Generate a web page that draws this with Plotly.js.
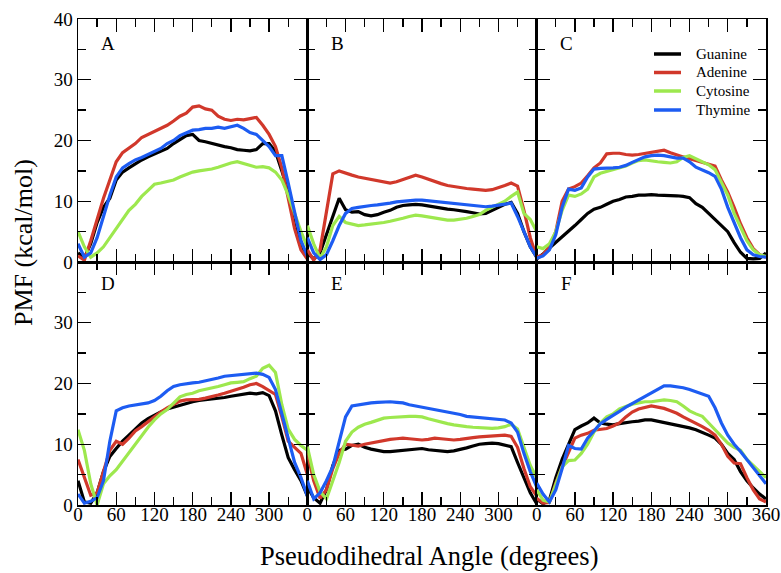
<!DOCTYPE html>
<html>
<head>
<meta charset="utf-8">
<script src="https://cdn.plot.ly/plotly-3.0.1.min.js"></script>
<style>
  html, body { margin: 0; padding: 0; background: #ffffff; }
  #chart { width: 781px; height: 573px; }
</style>
</head>
<body>
<div id="chart"></div>
<script>
// Pseudodihedral angle (degrees)
const angles = [0, 10, 20, 30, 40, 50, 60, 70, 80, 90, 100, 110, 120, 130, 140, 150, 160, 170, 180,
                190, 200, 210, 220, 230, 240, 250, 260, 270, 280, 290, 300, 310, 320, 330, 340, 350, 360];

const seriesNames = ["Guanine", "Adenine", "Cytosine", "Thymine"];
const panelLabels = ["A", "B", "C", "D", "E", "F"];
const xTickVals = [0, 60, 120, 180, 240, 300, 360];
const xTickTextShort = ["0", "60", "120", "180", "240", "300", ""];
const xTickTextFull = ["0", "60", "120", "180", "240", "300", "360"];
const yTickValsTop = [0, 10, 20, 30, 40];
const yTickTextTop = ["0", "10", "20", "30", "40"];
const yTickTextBottom = ["0", "10", "20", "30", ""];

// Panel A
const guanineA  = [1.5, 0.7, 3, 6.5, 9, 10.5, 13.5, 14.8, 15.5, 16.2, 16.8, 17.3, 17.8, 18.3, 18.7, 19.5, 20.2, 20.8, 21, 20, 19.8, 19.5, 19.2, 19, 18.8, 18.5, 18.4, 18.3, 18.5, 19.5, 19.5, 18.2, 15, 11.5, 6, 2.5, 1];
const adenineA  = [1, 0.3, 3.5, 7, 10.5, 13.5, 16.5, 18, 18.7, 19.5, 20.5, 21, 21.5, 22, 22.5, 23.2, 24, 24.5, 25.5, 25.7, 25.2, 25, 24, 23.5, 23.3, 23.5, 23.4, 23.6, 23.8, 22.5, 21, 19, 15.5, 10.5, 5.5, 2, 0.5];
const cytosineA = [5, 2.5, 0.8, 1.5, 2.5, 4, 5.5, 7, 8.5, 9.5, 10.8, 11.8, 12.8, 13, 13.2, 13.5, 14, 14.4, 14.8, 15, 15.1, 15.3, 15.6, 16, 16.3, 16.5, 16.2, 15.8, 15.6, 15.7, 15.5, 14.8, 13.5, 11, 8, 5, 2.5];
const thymineA  = [3, 0.8, 1.5, 4, 7.5, 11, 14, 15.5, 16.2, 16.8, 17.2, 17.7, 18.2, 18.7, 19.5, 20, 20.8, 21.3, 21.7, 21.8, 22, 22, 22.2, 22, 22.3, 22.5, 22, 21.3, 21, 20, 19, 17.5, 17.5, 13, 8, 3.5, 1];

// Panel B
const guanineB  = [1.5, 0.5, 1.5, 4.5, 7.5, 10.5, 8.6, 8.2, 8.3, 7.8, 7.6, 7.8, 8.2, 8.5, 9, 9.3, 9.4, 9.5, 9.4, 9.2, 9, 8.8, 8.7, 8.6, 8.5, 8.3, 8.1, 7.9, 8, 8.5, 9, 9.5, 9.8, 8, 5, 2.5, 0.8];
const adenineB  = [2, 0.3, 2, 8, 14.5, 15, 14.6, 14.3, 14, 13.8, 13.6, 13.5, 13.3, 13, 13.2, 13.6, 14, 14.3, 14, 13.6, 13.2, 12.9, 12.6, 12.4, 12.2, 12.1, 12, 11.9, 11.8, 11.9, 12.2, 12.6, 13, 12.5, 8.5, 4, 0.8];
const cytosineB = [6, 3, 0.6, 2.5, 6, 7.5, 6.5, 6.2, 6, 6.1, 6.2, 6.3, 6.5, 6.7, 6.9, 7.2, 7.5, 7.7, 7.6, 7.4, 7.2, 7, 6.9, 6.9, 7, 7.2, 7.5, 7.8, 8.5, 9, 9.5, 10, 10.8, 11.5, 8, 7, 5];
const thymineB  = [4, 1.5, 0.4, 1.2, 3.5, 6, 8, 8.8, 9, 9.2, 9.3, 9.4, 9.5, 9.7, 9.9, 10, 10.2, 10.2, 10.2, 10.1, 10, 9.9, 9.8, 9.7, 9.6, 9.5, 9.4, 9.2, 9.1, 9.2, 9.4, 9.6, 9.7, 7.5, 5, 2.5, 0.8];

// Panel C
const guanineC  = [0.5, 1.3, 2.3, 3.2, 4.2, 5, 6, 7, 8, 8.7, 9, 9.5, 10, 10.3, 10.7, 10.8, 11, 11, 11.1, 11, 11, 11, 10.9, 10.8, 10.6, 9.6, 9, 8, 7, 6, 5, 3.2, 1.6, 0.6, 0.5, 0.6, 1.5];
const adenineC  = [0.8, 1.2, 2.5, 5, 10, 12, 12.4, 13, 14.2, 15.5, 16.3, 17.8, 17.9, 17.9, 17.7, 17.6, 17.7, 17.9, 18, 18.3, 18.4, 18, 17.6, 17.3, 17, 16.7, 16.4, 16.2, 15.8, 13.5, 11.5, 9, 6.3, 4, 2.2, 1.2, 0.8];
const cytosineC = [2.5, 2.2, 3, 5, 8.5, 11, 10.8, 11.2, 12, 14, 14.6, 14.9, 15.1, 15.5, 15.8, 16.3, 16.7, 16.8, 16.6, 16.5, 16.4, 16.3, 16.5, 17.2, 17.5, 17, 16.5, 16, 15.2, 13, 11, 8, 5.8, 3.5, 2, 1.2, 0.9];
const thymineC  = [0.6, 1, 2, 4.5, 9, 12, 11.8, 12.2, 14, 15.3, 15.4, 15.4, 15.5, 15.6, 15.9, 16.4, 16.8, 17.3, 17.5, 17.6, 17.5, 17.3, 17.1, 17.1, 16.5, 15.6, 15.2, 14.7, 14.1, 12, 9, 6.5, 4, 2, 1.2, 0.9, 0.8];

// Panel D
const guanineD  = [4, 0.5, 0.3, 2, 5.5, 8, 9.3, 10.5, 11.5, 12.5, 13.5, 14.2, 14.8, 15.3, 15.8, 16.1, 16.4, 16.8, 17, 17.2, 17.3, 17.5, 17.6, 17.7, 17.9, 18.1, 18.3, 18.4, 18.3, 18.5, 18, 15.5, 11.5, 7.8, 5.8, 4, 1.5];
const adenineD  = [7.5, 4.5, 1.6, 2, 5.5, 9, 10.5, 10, 11, 12.2, 12.9, 13.7, 14.6, 15.3, 16, 16.6, 17.1, 17.3, 17.3, 17.4, 17.6, 17.8, 18.1, 18.4, 18.7, 19, 19.4, 19.8, 20, 19.5, 18.8, 18.2, 14.5, 10.5, 9.5, 8.5, 5];
const cytosineD = [12.4, 9, 3.5, 0, 3.5, 4.8, 5.8, 7.2, 8.8, 10, 11.6, 12.8, 14, 15, 15.7, 16.8, 17.8, 18.2, 18.4, 18.8, 19, 19.3, 19.5, 19.8, 20.1, 20.2, 20.3, 20.8, 21.2, 22.5, 23, 21.8, 16.5, 12.5, 10.8, 9.8, 9];
const thymineD  = [1.8, 0.3, 0.6, 1.2, 4, 10.5, 15.5, 16, 16.3, 16.5, 16.6, 16.8, 17.2, 17.9, 18.8, 19.5, 19.8, 20, 20.1, 20.2, 20.4, 20.6, 20.9, 21.2, 21.3, 21.4, 21.5, 21.6, 21.7, 21.5, 21, 19, 15, 10.5, 7, 4.5, 1.5];

// Panel E
const guanineE  = [3, 1.2, 0.3, 2.5, 6.5, 9, 9.2, 9.8, 10, 9.5, 9.2, 9, 8.8, 8.8, 8.9, 9.1, 9.2, 9.3, 9.3, 9.1, 9, 8.8, 8.8, 8.9, 9.1, 9.4, 9.7, 10, 10.1, 10.2, 10.1, 9.9, 9.6, 7, 4.5, 2, 0.2];
const adenineE  = [8.5, 4, 1.1, 2.5, 6, 8.5, 10, 9.8, 9.7, 10, 10.2, 10.4, 10.7, 10.8, 10.9, 11, 10.9, 10.8, 10.7, 10.8, 11, 10.9, 10.8, 10.7, 10.8, 11, 11.1, 11.2, 11.3, 11.4, 11.5, 11.5, 11.3, 9.5, 6, 3, 1.5];
const cytosineE = [9.6, 5, 2.2, 1, 4, 7, 10.5, 12, 12.8, 13.3, 13.6, 14, 14.3, 14.4, 14.5, 14.6, 14.6, 14.6, 14.5, 14.2, 13.9, 13.6, 13.4, 13.2, 13, 12.9, 12.8, 12.7, 12.6, 12.6, 12.7, 12.9, 13.3, 12.5, 9.5, 6.5, 4.5];
const thymineE  = [4, 1, 2, 4, 6.3, 10.5, 14.5, 16.3, 16.5, 16.7, 16.8, 16.9, 17, 17, 16.9, 16.8, 16.5, 16.3, 16.2, 16, 15.8, 15.6, 15.3, 15.1, 14.9, 14.6, 14.5, 14.4, 14.3, 14.2, 14.1, 14, 13.5, 12, 8.5, 5.5, 3];

// Panel F
const guanineF  = [1, 0.2, 0.8, 4.5, 7.5, 10, 12.4, 13, 13.5, 14.3, 13.5, 13.3, 13.2, 13.4, 13.6, 13.7, 13.8, 14, 14, 13.8, 13.6, 13.4, 13.2, 12.9, 12.7, 12.4, 12, 11.5, 11, 10, 8.5, 7.5, 5.5, 4, 2.8, 1.8, 1];
const adenineF  = [1.1, 0.3, 0.4, 3.6, 6.3, 8.5, 11, 11.5, 11.8, 12.3, 12.5, 12.6, 13, 13.5, 14.5, 15.3, 15.8, 16.1, 16.3, 16.1, 15.9, 15.5, 15.1, 14.5, 14, 13.5, 12.9, 12.3, 11.5, 10, 8, 6.9, 6.8, 4.5, 2.5, 1, 0.5];
const cytosineF = [2.5, 0.8, 0.5, 3.6, 6.3, 7.3, 7.4, 8.5, 10, 12, 13.5, 14.5, 15, 15.8, 16.2, 16.6, 16.8, 17, 17, 17.2, 17.3, 17.2, 17, 16.3, 15.5, 15, 14.6, 13.5, 12.4, 11.3, 10.2, 9.5, 9, 7.5, 6.5, 5.5, 4.5];
const thymineF  = [3.6, 1.8, 0.5, 2.5, 6, 9.8, 9.3, 9.2, 11, 12.3, 13.4, 14.1, 14.7, 15.4, 16.1, 16.7, 17.3, 17.8, 18.5, 19, 19.6, 19.6, 19.5, 19.3, 19, 18.6, 18.2, 17.9, 16, 13.5, 11.5, 10, 8.8, 7.5, 6.3, 5, 3.5];

const panels = [
  [guanineA, adenineA, cytosineA, thymineA],
  [guanineB, adenineB, cytosineB, thymineB],
  [guanineC, adenineC, cytosineC, thymineC],
  [guanineD, adenineD, cytosineD, thymineD],
  [guanineE, adenineE, cytosineE, thymineE],
  [guanineF, adenineF, cytosineF, thymineF]
];

const colors = ["#000000", "#d1382b", "#9de84e", "#1d5cf2"];
const serif = "Liberation Serif, Times New Roman, serif";

const traces = [];
panels.forEach((set, p) => {
  const ax = p === 0 ? "" : String(p + 1);
  set.forEach((vals, s) => {
    traces.push({
      type: "scatter", mode: "lines",
      x: angles, y: vals,
      xaxis: "x" + ax, yaxis: "y" + ax,
      name: seriesNames[s],
      showlegend: false,
      line: { color: colors[s], width: 3.2 },
      hoverinfo: "skip"
    });
  });
});

const layout = {
  width: 781, height: 573,
  margin: { l: 78, r: 15, t: 19, b: 68 },
  paper_bgcolor: "#ffffff", plot_bgcolor: "#ffffff",
  font: { family: serif, size: 19, color: "#000000" },
  showlegend: false,
  annotations: [],
  shapes: []
};

const colDomains = [[0, 1 / 3], [1 / 3, 2 / 3], [2 / 3, 1]];
const rowDomains = [[0.5, 1], [0, 0.5]];

for (let p = 0; p < 6; p++) {
  const row = Math.floor(p / 3), col = p % 3;
  const ax = p === 0 ? "" : String(p + 1);
  layout["xaxis" + ax] = {
    domain: colDomains[col], range: [0, 360], anchor: "y" + ax,
    showline: true, linecolor: "#000", linewidth: 1.5, mirror: "ticks",
    ticks: "inside", ticklen: 13, tickwidth: 1.3, tickcolor: "#000",
    tickvals: xTickVals,
    ticktext: col === 2 ? xTickTextFull : xTickTextShort,
    showticklabels: row === 1,
    ticklabelstandoff: -8,
    minor: { dtick: 30, tick0: 0, ticks: "inside", ticklen: 8, tickwidth: 1.3, tickcolor: "#000", showgrid: false },
    showgrid: false, zeroline: false,
    tickfont: { family: serif, size: 19, color: "#000" }
  };
  layout["yaxis" + ax] = {
    domain: rowDomains[row], range: [0, 40], anchor: "x" + ax,
    showline: true, linecolor: "#000", linewidth: 1.5, mirror: "ticks",
    ticks: "inside", ticklen: 13, tickwidth: 1.3, tickcolor: "#000",
    tickvals: yTickValsTop,
    ticktext: row === 0 ? yTickTextTop : yTickTextBottom,
    showticklabels: col === 0,
    minor: { dtick: 5, tick0: 0, ticks: "inside", ticklen: 8, tickwidth: 1.3, tickcolor: "#000", showgrid: false },
    showgrid: false, zeroline: false,
    tickfont: { family: serif, size: 19, color: "#000" }
  };
  layout.annotations.push({
    xref: "x" + ax, yref: "y" + ax, x: 47, y: row === 0 ? 35.9 : 36.5,
    text: panelLabels[p], showarrow: false,
    font: { family: serif, size: 19, color: "#000" }
  });
}

// Legend drawn inside panel C (pixel positions converted to paper coordinates)
const legendRowsPx = [54, 72.5, 91, 110];
const px2x = (px) => (px - 78) / 688;
const px2y = (py) => (505 - py) / 486;
seriesNames.forEach((name, s) => {
  layout.shapes.push({
    type: "line", xref: "paper", yref: "paper",
    x0: px2x(654), x1: px2x(681), y0: px2y(legendRowsPx[s]), y1: px2y(legendRowsPx[s]),
    line: { color: colors[s], width: 3.5 }
  });
  layout.annotations.push({
    xref: "paper", yref: "paper", x: px2x(694), y: px2y(legendRowsPx[s]),
    xanchor: "left", yanchor: "middle", text: name, showarrow: false,
    font: { family: serif, size: 15, color: "#000" }
  });
});

layout.annotations.push({
  xref: "paper", yref: "paper", x: px2x(429), y: px2y(556), yanchor: "middle",
  text: "Pseudodihedral Angle (degrees)", showarrow: false,
  font: { family: serif, size: 26.5, color: "#000" }
});
layout.annotations.push({
  xref: "paper", yref: "paper", x: px2x(23), y: px2y(243), xanchor: "center", yanchor: "middle",
  text: "PMF (kcal/mol)", textangle: -90, showarrow: false,
  font: { family: serif, size: 26, color: "#000" }
});

Plotly.newPlot("chart", traces, layout, { staticPlot: true, displayModeBar: false });
</script>
</body>
</html>
